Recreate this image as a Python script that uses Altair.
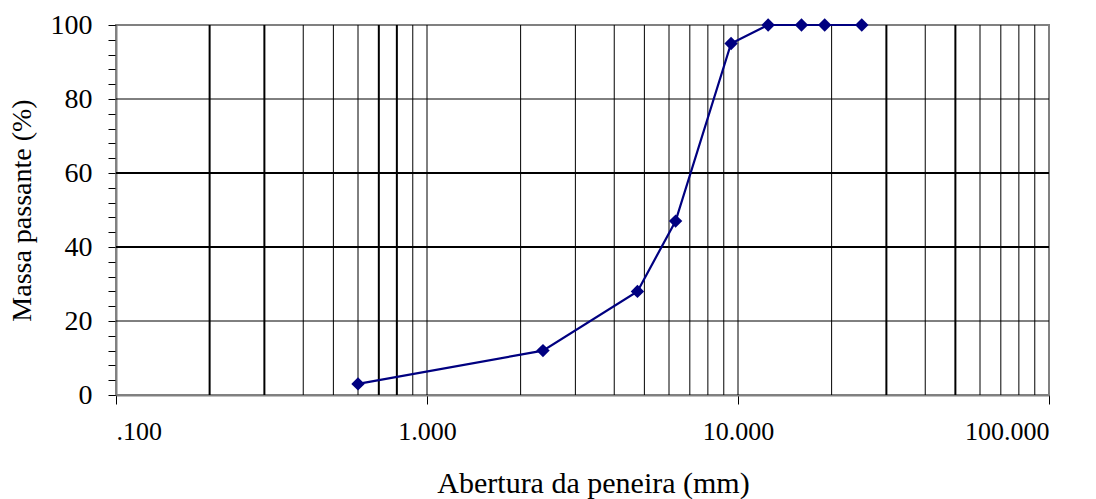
import altair as alt
import pandas as pd

# Curva granulométrica: abertura da peneira (mm) x massa passante (%)
aberturas = [0.6, 2.36, 4.75, 6.3, 9.5, 12.5, 16, 19, 25]
passante = [3, 12, 28, 47, 95, 100, 100, 100, 100]

# Eixos
x_ticks = [0.1, 1, 10, 100]
x_labels = [".100", "1.000", "10.000", "100.000"]
y_minor = list(range(0, 101, 4))

# Linhas de grade (logarítmicas em x, a cada 20 em y)
grid_x = [round(k * 10 ** e, 3) for e in (-1, 0, 1) for k in range(1, 10)][1:]
grid_x_heavy = [0.2, 0.3, 0.7, 0.8, 30, 50]
grid_y = [20, 40, 60, 80]
grid_y_heavy = [40, 60]

SERIF = "Times New Roman, Liberation Serif, serif"
NAVY = "#000080"

df = pd.DataFrame({"abertura": aberturas, "passante": passante})

label_expr = " : ".join(
    f"datum.value == {v} ? '{t}'" for v, t in zip(x_ticks, x_labels)
) + " : ''"

x_scale = alt.Scale(type="log", domain=[0.1, 100], nice=False)
y_scale = alt.Scale(domain=[0, 100], nice=False)

x_axis = alt.Axis(
    values=x_ticks, labelExpr=label_expr, grid=False,
    title="Abertura da peneira (mm)", titleFont=SERIF, titleFontSize=30,
    titleFontWeight="normal", titleColor="black", titlePadding=24,
    titleX=477, titleAlign="center",
    labelFont=SERIF, labelFontSize=26, labelColor="black", labelPadding=14,
    tickSize=9, tickColor="black", domainColor="#808080", domainWidth=2,
)
y_axis = alt.Axis(
    values=y_minor, labelExpr="datum.value % 20 == 0 ? datum.value : ''",
    grid=False, title="Massa passante (%)", titleFont=SERIF, titleFontSize=28,
    titleFontWeight="normal", titleColor="black", titlePadding=14,
    labelFont=SERIF, labelFontSize=28, labelColor="black", labelPadding=16,
    tickSize=8, tickColor="black", domainColor="#808080", domainWidth=2,
)

vgrid = pd.DataFrame({"x": grid_x, "w": [2 if v in grid_x_heavy else 1 for v in grid_x]})
hgrid = pd.DataFrame({"y": grid_y, "w": [2 if v in grid_y_heavy else 1 for v in grid_y]})

vlines = alt.Chart(vgrid).mark_rule(color="black").encode(
    x=alt.X("x:Q", scale=x_scale, axis=x_axis),
    strokeWidth=alt.StrokeWidth("w:Q", scale=None, legend=None),
)
hlines = alt.Chart(hgrid).mark_rule(color="black").encode(
    y=alt.Y("y:Q", scale=y_scale, axis=y_axis),
    strokeWidth=alt.StrokeWidth("w:Q", scale=None, legend=None),
)

base = alt.Chart(df).encode(
    x=alt.X("abertura:Q", scale=x_scale, axis=x_axis),
    y=alt.Y("passante:Q", scale=y_scale, axis=y_axis),
)
line = base.mark_line(color=NAVY, strokeWidth=2.2)
points = base.mark_point(shape="diamond", filled=True, color=NAVY, size=180, opacity=1)

chart = (
    alt.layer(vlines, hlines, line, points)
    .properties(
        width=933, height=370,
        padding={"left": 116, "top": 25, "right": 47, "bottom": 104},
        autosize=alt.AutoSizeParams(type="none"),
        background="white",
    )
    .configure_view(stroke="#808080", strokeWidth=2)
)

chart.save("out.html", embed_options={"renderer": "svg", "actions": False})
